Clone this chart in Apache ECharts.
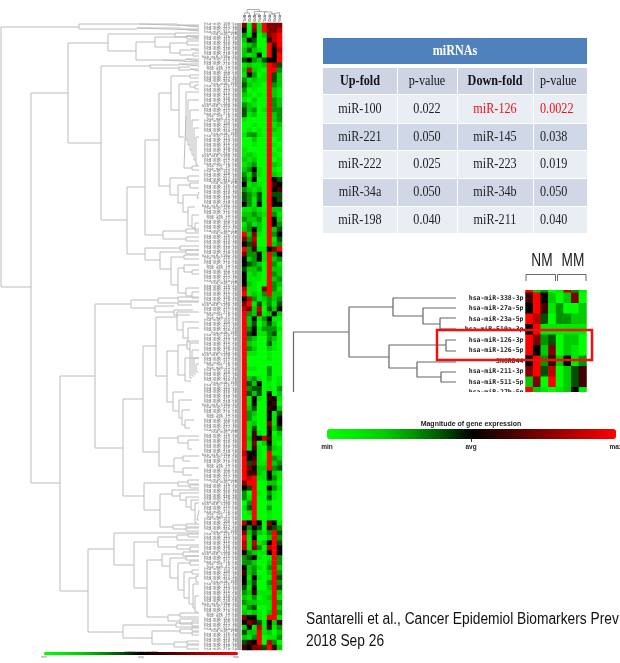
<!DOCTYPE html>
<html>
<head>
<meta charset="utf-8">
<title>miRNA heatmap</title>
<script src="https://cdn.jsdelivr.net/npm/echarts@6/dist/echarts.min.js"></script>
<style>
  html, body { margin: 0; padding: 0; background: #fff; overflow: hidden; }
  #main { width: 620px; height: 663px; }
</style>
</head>
<body>
<div id="main"></div>
<script>
// expression scale: digit 0 = min (green), 5 = avg (black), 9 = max (red)
var heatColumns = ["NM1", "NM2", "NM3", "NM4", "MM1", "MM2", "MM3", "MM4"];

// big heatmap, one string per row, one digit per column
var heatRows = [
  "70819777", "50719778", "31502789", "25400689", "12300969", "24210958", "21250959", "45324559",
  "12112984", "28210993", "15301942", "31211942", "42110932", "30100921", "21010921", "10200932",
  "32100932", "42301933", "41200923", "10000923", "00100912", "01010921", "13310911", "00200901",
  "00100910", "10000901", "12100910", "21200901", "12300921", "23510910", "31410921", "42500954",
  "51210965", "32120956", "43240944", "43140954", "53150955", "11210922", "22321931", "32230952",
  "13120953", "23520924", "92710935", "73800914", "54700923", "93611579", "73351935", "52351923",
  "54320931", "42230922", "51210932", "51110923", "52100932", "81107931", "91213922", "58312323",
  "79141314", "87280425", "93271252", "92513511", "92402420", "93513331", "94511340", "93200320",
  "92100410", "93200210", "91100100", "90000100", "90000000", "91100300", "90000300", "92310201",
  "94250101", "93440103", "94240502", "91510651", "91500560", "92400652", "93200514", "93100515",
  "91200715", "91400624", "91610502", "92658611", "91702510", "91610421", "85510911", "95610932",
  "94711923", "97522934", "96621521", "98911531", "79900220", "54900531", "30910310", "31900410",
  "03900100", "14900300", "01900100", "00900100", "85850751", "53540643", "72421394", "91500293",
  "81812594", "81730895", "53211595", "34510193", "33200293", "52310392", "62300293", "51510194",
  "52400393", "41500294", "32611192", "21301291", "32211193", "13400192", "21210293", "75510991",
  "57641526", "25181613", "42291202", "21390113", "46590830", "65774962"
];

var smallColumns = heatColumns;
var smallLabels = [
  "", "hsa-miR-338-3p", "hsa-miR-27a-5p", "hsa-miR-23a-5p", "hsa-miR-519a-3p", "hsa-miR-126-3p",
  "hsa-miR-126-5p", "SNORD44", "hsa-miR-211-3p", "hsa-miR-511-5p", "hsa-miR-27b-5p"
];
var smallRows = [
  "92301831", "69520270", "59613002", "98403322", "59111111", "97340220",
  "95270210", "59362513", "79480246", "27090246", "92101251"
];

// leaf names of the big tree, too small to read in the picture
var leafNames = [
  "hsa-miR-100-5p", "hsa-miR-221-3p", "hsa-miR-222-3p", "hsa-miR-34a-5p", "hsa-miR-198",
  "hsa-miR-126-3p", "hsa-miR-145-5p", "hsa-miR-223-3p", "hsa-miR-34b-3p", "hsa-miR-211-5p",
  "hsa-miR-338-3p", "hsa-miR-27a-5p", "hsa-miR-23a-5p", "hsa-miR-519a-3p", "hsa-miR-126-5p",
  "hsa-miR-511-5p", "hsa-miR-27b-5p", "hsa-let-7a-5p", "hsa-miR-21-5p", "hsa-miR-155-5p"
];

// tree clades: [split, topLeaf, topChildSplit, bottomLeaf, bottomChildSplit]
var bigTree = [
  [1, 27, 79, 287, 31], [79, 24, 139, 29, 137], [139, 24, 177, 26, 199], [137, 28, 180, 30, 199],
  [177, 25, 199, 27, 199], [180, 29, 199, 31, 199], [31, 93, 68, 483, 60], [68, 43, 108, 143, 101],
  [108, 34, 175, 51, 136], [175, 33, 199, 37, 186], [186, 36, 199, 38, 199], [136, 42, 155, 60, 162],
  [155, 37, 187, 47, 170], [170, 43, 187, 53, 180], [180, 50, 191, 55, 193], [187, 36, 199, 39, 199],
  [187, 41, 199, 45, 199], [191, 49, 199, 51, 199], [193, 53, 199, 56, 199], [162, 60, 186, 62, 199],
  [186, 59, 199, 61, 199], [101, 66, 150, 220, 127], [150, 65, 179, 68, 179], [179, 64, 199, 66, 199],
  [179, 67, 190, 70, 190], [190, 69, 199, 71, 199], [127, 187, 145, 254, 145], [145, 140, 159, 235, 163],
  [159, 93, 171, 186, 170], [171, 76, 190, 110, 179], [190, 75, 199, 78, 199], [179, 84, 190, 137, 184],
  [190, 82, 199, 87, 195], [195, 85, 199, 89, 199], [184, 116, 186, 168, 192], [186, 92, 199, 140, 188],
  [188, 100, 199, 145, 190], [190, 110, 199, 150, 192], [192, 120, 199, 155, 194], [194, 128, 199, 160, 196],
  [196, 137, 199, 165, 198], [192, 166, 199, 170, 199], [170, 178, 188, 195, 178], [178, 185, 190, 203, 183],
  [183, 195, 197, 212, 188], [188, 207, 195, 226, 192], [192, 215, 199, 228, 195], [195, 223, 199, 231, 199],
  [188, 176, 199, 181, 199], [190, 183, 199, 188, 199], [197, 192, 199, 198, 199], [163, 231, 186, 239, 186],
  [186, 229, 199, 233, 199], [186, 237, 199, 241, 199], [145, 248, 180, 260, 160], [180, 246, 199, 250, 199],
  [160, 252, 186, 269, 171], [186, 250, 199, 254, 199], [171, 257, 184, 285, 178], [184, 255, 199, 259, 199],
  [178, 268, 184, 293, 186], [184, 265, 199, 272, 192], [192, 270, 199, 274, 199], [186, 288, 199, 296, 192],
  [192, 292, 199, 298, 199], [60, 376, 95, 591, 88], [95, 304, 131, 448, 123], [131, 300, 158, 308, 155],
  [158, 298, 178, 303, 178], [178, 297, 199, 301, 199], [178, 302, 199, 305, 192], [155, 306, 174, 312, 174],
  [174, 310, 193, 315, 190], [123, 399, 143, 496, 144], [143, 346, 156, 452, 159], [156, 317, 177, 376, 167],
  [167, 351, 178, 402, 173], [177, 312, 199, 330, 183], [183, 322, 199, 338, 188], [188, 328, 199, 342, 190],
  [178, 345, 187, 375, 185], [173, 392, 184, 411, 179], [179, 400, 192, 418, 182], [182, 410, 190, 425, 185],
  [185, 420, 194, 428, 190], [187, 341, 199, 349, 190], [185, 358, 199, 381, 191], [190, 343, 199, 378, 192],
  [192, 350, 199, 376, 194], [194, 358, 199, 374, 196], [196, 364, 199, 372, 198], [159, 438, 178, 466, 174],
  [178, 436, 199, 443, 188], [188, 440, 199, 449, 192], [174, 458, 183, 472, 183], [183, 456, 199, 461, 190],
  [183, 468, 199, 475, 192], [144, 483, 178, 510, 160], [178, 482, 188, 486, 190], [188, 480, 199, 484, 199],
  [190, 485, 199, 488, 199], [160, 494, 172, 527, 173], [172, 490, 199, 496, 180], [180, 493, 199, 500, 186],
  [186, 497, 199, 507, 191], [191, 500, 199, 510, 195], [195, 503, 199, 523, 197], [197, 510, 199, 520, 199],
  [173, 525, 186, 529, 186], [186, 524, 199, 527, 199], [186, 528, 199, 531, 199], [88, 549, 114, 632, 123],
  [114, 533, 199, 565, 134], [134, 542, 158, 588, 147], [158, 537, 177, 547, 177], [177, 535, 188, 540, 195],
  [188, 534, 199, 537, 199], [177, 545, 199, 549, 190], [190, 547, 199, 551, 199], [147, 560, 162, 617, 168],
  [162, 554, 183, 566, 170], [183, 552, 199, 556, 199], [170, 558, 186, 578, 178], [186, 556, 199, 560, 199],
  [178, 563, 190, 590, 184], [190, 561, 199, 565, 199], [184, 572, 192, 598, 189], [192, 570, 199, 574, 199],
  [189, 578, 196, 604, 193], [193, 584, 199, 608, 195], [196, 576, 199, 582, 199], [195, 596, 199, 612, 198],
  [168, 615, 180, 621, 180], [180, 613, 199, 617, 199], [180, 619, 199, 624, 192], [192, 621, 199, 626, 199],
  [123, 625, 176, 638, 152], [176, 623, 199, 627, 199], [152, 631, 180, 644, 174], [180, 629, 192, 633, 192],
  [192, 628, 199, 631, 199], [192, 632, 199, 635, 199], [174, 642, 187, 647, 187], [187, 641, 199, 644, 199],
  [187, 645, 199, 649, 199]
];
var smallTree = [
  [293.5, 332, 349, 392, 293.5], [349, 307, 393, 357, 389], [393, 298, 456, 316, 423], [423, 308, 456, 324, 440],
  [440, 318, 456, 329, 456], [389, 345, 446, 368, 417], [446, 340, 456, 351, 456], [417, 362, 456, 377, 441],
  [441, 372, 456, 382, 456]
];
// tree over the big heatmap columns: [height, leftCol, leftHeight, rightCol, rightHeight]
var columnTree = [
  [9.5, 1, 13, 3.5, 11.5], [13, 0.5, 17, 1.5, 17], [11.5, 2.5, 14, 5, 12], [14, 2.5, 17, 3.5, 17],
  [12, 4.5, 17, 6, 14], [14, 5.5, 17, 6.5, 17], [12.5, 6, 14, 7.5, 17]
];

// table
var tableTitle = "miRNAs";
var tableHead = ["Up-fold", "p-value", "Down-fold", "p-value"];
var upFold = ["miR-100", "miR-221", "miR-222", "miR-34a", "miR-198"];
var upP = ["0.022", "0.050", "0.025", "0.050", "0.040"];
var downFold = ["miR-126", "miR-145", "miR-223", "miR-34b", "miR-211"];
var downP = ["0.0022", "0.038", "0.019", "0.050", "0.040"];

function treePath(clades, flip) {
  var pts = [];
  clades.forEach(function (c) {
    var line = [[c[2], c[1]], [c[0], c[1]], [c[0], c[3]], [c[4], c[3]]];
    line.forEach(function (p) { pts.push(flip ? [p[1], p[0]] : p); });
    pts.push(["-", "-"]);
  });
  return pts;
}

// digits above 5 stretch to 10 so that avg (black) sits in the middle of the key
function decode(d) { return d > 5 ? 5 + (d - 5) * 1.25 : d; }

function heatData(rows) {
  var out = [];
  rows.forEach(function (r, y) {
    for (var x = 0; x < r.length; x++) out.push([x, y, decode(+r[x])]);
  });
  return out;
}

// table layout, in pixels from the table's corner
var colEdges = [0, 74, 134, 210, 264];
var rowEdges = [[0, 26], [30, 56], [57, 85], [86, 112], [113, 140], [141, 168], [169, 195]];
var colText = [37, 104, 172, 217];

var tableCells = [];
tableCells.push({ col: -1, row: 0, text: tableTitle, fill: "#4f81bd", color: "#fff", bold: true });
tableHead.forEach(function (t, c) {
  tableCells.push({ col: c, row: 1, text: t, fill: "#cdd5e4", color: "#111", bold: c % 2 === 0 });
});
upFold.forEach(function (t, i) {
  var fill = i % 2 === 0 ? "#e9edf4" : "#d0d8e8";
  [t, upP[i], downFold[i], downP[i]].forEach(function (v, c) {
    tableCells.push({ col: c, row: i + 2, text: v, fill: fill, color: i === 0 && c > 1 ? "#ee1111" : "#222", bold: false });
  });
});

function renderCell(params, api) {
  var d = tableCells[params.dataIndex];
  var c0 = d.col < 0 ? 0 : d.col;
  var c1 = d.col < 0 ? 4 : d.col + 1;
  var p0 = api.coord([colEdges[c0], rowEdges[d.row][0]]);
  var p1 = api.coord([colEdges[c1], rowEdges[d.row][1]]);
  var gapL = c0 > 0 ? 1 : 0;
  var leftAligned = d.col === 3 && d.row > 0;
  var tx = d.col < 0 ? api.coord([132, 0])[0] : api.coord([colText[d.col], 0])[0];
  return {
    type: "group",
    children: [
      { type: "rect", shape: { x: p0[0] + gapL, y: p0[1], width: p1[0] - p0[0] - gapL, height: p1[1] - p0[1] }, style: { fill: d.fill } },
      {
        type: "text", x: tx, y: (p0[1] + p1[1]) / 2, scaleX: 0.87,
        style: {
          text: d.text, x: 0, y: 0, fill: d.color,
          font: (d.bold ? "bold " : "") + "14px 'Liberation Serif'",
          align: leftAligned ? "left" : "center", verticalAlign: "middle"
        }
      }
    ]
  };
}

function hiddenValue(grid, min, max, inverse) {
  return { type: "value", gridIndex: grid, min: min, max: max, inverse: !!inverse, show: false };
}

var leafLabels = [];
for (var i = 0; i < 252; i++) leafLabels.push(leafNames[i % leafNames.length]);

var rowNames = heatRows.map(function (r, i) { return "r" + i; });

var labelFont = "DejaVu Sans Mono";
var treeLine = { color: "#bcbcbc", width: 1 };
var keyColors = [
  "#00ff00", "#00ea00", "#00cc00", "#009400", "#005000", "#000000",
  "#330000", "#660000", "#990000", "#cc0000", "#ff0000"
];

var option = {
  animation: false,
  backgroundColor: "#fff",
  grid: [
    { left: 242, top: 23, width: 40, height: 627 },         // big heatmap
    { left: 0, top: 23, width: 199, height: 627 },          // big tree
    { left: 242, top: 5, width: 40, height: 15 },           // column tree
    { left: 525.5, top: 282.25, width: 61, height: 115.5 }, // small heatmap
    { left: 290, top: 290, width: 170, height: 110 },       // small tree
    { left: 323, top: 38, width: 264, height: 195 }         // table
  ],
  xAxis: [
    {
      type: "category", gridIndex: 0, data: heatColumns, position: "top",
      axisLine: { show: false }, axisTick: { show: false },
      axisLabel: { interval: 0, rotate: 90, fontSize: 4, margin: 1, color: "#333", fontFamily: labelFont }
    },
    hiddenValue(1, 0, 199),
    hiddenValue(2, 0, 8),
    { type: "category", gridIndex: 3, data: smallColumns, show: false },
    hiddenValue(4, 290, 460),
    hiddenValue(5, 0, 264)
  ],
  yAxis: [
    { type: "category", gridIndex: 0, data: rowNames, inverse: true, show: false },
    hiddenValue(1, 23, 650, true),
    hiddenValue(2, 5, 20, true),
    {
      type: "category", gridIndex: 3, data: smallLabels, inverse: true,
      axisLine: { show: false }, axisTick: { show: false },
      axisLabel: { interval: 0, fontSize: 6.5, fontWeight: "bold", margin: 2, color: "#222", fontFamily: labelFont }
    },
    hiddenValue(4, 290, 400, true),
    hiddenValue(5, 0, 195, true),
    {
      type: "category", gridIndex: 0, data: leafLabels, inverse: true, position: "left",
      axisLine: { show: false }, axisTick: { show: false },
      axisLabel: { interval: 0, fontSize: 3.9, margin: 5, color: "#666", fontFamily: labelFont }
    }
  ],
  visualMap: [
    {
      type: "continuous", seriesIndex: 0, min: 0, max: 10, orient: "horizontal", left: 44, top: 652, padding: 0,
      itemWidth: 3, itemHeight: 194, showLabel: false, calculable: false, text: null,
      inRange: { color: keyColors }
    },
    {
      type: "continuous", seriesIndex: 1, min: 0, max: 10, orient: "horizontal", left: 327, top: 429, padding: 0,
      itemWidth: 10, itemHeight: 289, showLabel: false, calculable: false, text: null,
      inRange: { color: keyColors }
    }
  ],
  series: [
    { type: "heatmap", xAxisIndex: 0, yAxisIndex: 0, data: heatData(heatRows), progressive: 0, emphasis: { disabled: true } },
    { type: "heatmap", xAxisIndex: 3, yAxisIndex: 3, data: heatData(smallRows), emphasis: { disabled: true } },
    { type: "line", xAxisIndex: 1, yAxisIndex: 1, data: treePath(bigTree), showSymbol: false, connectNulls: false, lineStyle: treeLine, silent: true },
    { type: "line", xAxisIndex: 2, yAxisIndex: 2, data: treePath(columnTree, true), showSymbol: false, connectNulls: false, lineStyle: { color: "#999", width: 0.8 }, silent: true },
    { type: "line", xAxisIndex: 4, yAxisIndex: 4, data: treePath(smallTree), showSymbol: false, connectNulls: false, lineStyle: { color: "#666", width: 1.2 }, silent: true },
    { type: "custom", xAxisIndex: 5, yAxisIndex: 5, data: tableCells.map(function (c, i) { return [i]; }), renderItem: renderCell, silent: true }
  ],
  graphic: [
    // grey end of the leaf labels
    { type: "rect", z: 3, shape: { x: 237, y: 23, width: 4, height: 627 }, style: { fill: "#b0b0b0" } },
    // the small heatmap is a cropped image: hide what falls outside the crop
    { type: "rect", z: 90, shape: { x: 440, y: 281.5, width: 150, height: 8.5 }, style: { fill: "#fff" } },
    { type: "rect", z: 90, shape: { x: 440, y: 392, width: 150, height: 8 }, style: { fill: "#fff" } },
    { type: "rect", z: 100, shape: { x: 437, y: 330, width: 155, height: 30 }, style: { fill: "none", stroke: "#f01010", lineWidth: 2.5 } },
    // NM / MM brackets
    { type: "polyline", z: 100, shape: { points: [[526, 281], [526, 274.5], [555.5, 274.5], [555.5, 281]] }, style: { fill: "none", stroke: "#666", lineWidth: 1 } },
    { type: "polyline", z: 100, shape: { points: [[557.5, 281], [557.5, 274.5], [586, 274.5], [586, 281]] }, style: { fill: "none", stroke: "#666", lineWidth: 1 } },
    { type: "text", z: 100, x: 542, y: 261, scaleX: 0.76, style: { text: "NM", x: 0, y: 0, fill: "#222", font: "18px 'Liberation Sans'", align: "center", verticalAlign: "middle" } },
    { type: "text", z: 100, x: 573, y: 261, scaleX: 0.76, style: { text: "MM", x: 0, y: 0, fill: "#222", font: "18px 'Liberation Sans'", align: "center", verticalAlign: "middle" } },
    // small color key text
    { type: "text", z: 100, x: 471, y: 424, style: { text: "Magnitude of gene expression", x: 0, y: 0, fill: "#222", font: "bold 7px 'Liberation Sans'", align: "center", verticalAlign: "middle" } },
    { type: "text", z: 100, x: 327, y: 447, style: { text: "min", x: 0, y: 0, fill: "#222", font: "bold 6.5px 'Liberation Sans'", align: "center", verticalAlign: "middle" } },
    { type: "text", z: 100, x: 471, y: 447, style: { text: "avg", x: 0, y: 0, fill: "#222", font: "bold 6.5px 'Liberation Sans'", align: "center", verticalAlign: "middle" } },
    { type: "text", z: 100, x: 616, y: 447, style: { text: "max", x: 0, y: 0, fill: "#222", font: "bold 6.5px 'Liberation Sans'", align: "center", verticalAlign: "middle" } },
    { type: "line", z: 100, shape: { x1: 471.5, y1: 439, x2: 471.5, y2: 442 }, style: { stroke: "#333", lineWidth: 1 } },
    // big color key text
    { type: "text", z: 100, x: 141, y: 651, style: { text: "Magnitude of gene expression", x: 0, y: 0, fill: "#555", font: "2.5px 'Liberation Sans'", align: "center", verticalAlign: "middle" } },
    { type: "text", z: 100, x: 44, y: 657, style: { text: "min", x: 0, y: 0, fill: "#666", font: "3px 'Liberation Sans'", align: "center", verticalAlign: "middle" } },
    { type: "text", z: 100, x: 141, y: 657, style: { text: "avg", x: 0, y: 0, fill: "#666", font: "3px 'Liberation Sans'", align: "center", verticalAlign: "middle" } },
    { type: "text", z: 100, x: 236, y: 657, style: { text: "max", x: 0, y: 0, fill: "#666", font: "3px 'Liberation Sans'", align: "center", verticalAlign: "middle" } },
    // citation
    { type: "text", z: 100, x: 306, y: 620, scaleX: 0.86, style: { text: "Santarelli et al., Cancer Epidemiol Biomarkers Prev", x: 0, y: 0, fill: "#111", font: "16px 'Liberation Sans'", align: "left", verticalAlign: "middle" } },
    { type: "text", z: 100, x: 306, y: 642, scaleX: 0.86, style: { text: "2018 Sep 26", x: 0, y: 0, fill: "#111", font: "16px 'Liberation Sans'", align: "left", verticalAlign: "middle" } }
  ]
};

var myChart = echarts.init(document.getElementById("main"));
myChart.setOption(option);
</script>
</body>
</html>
